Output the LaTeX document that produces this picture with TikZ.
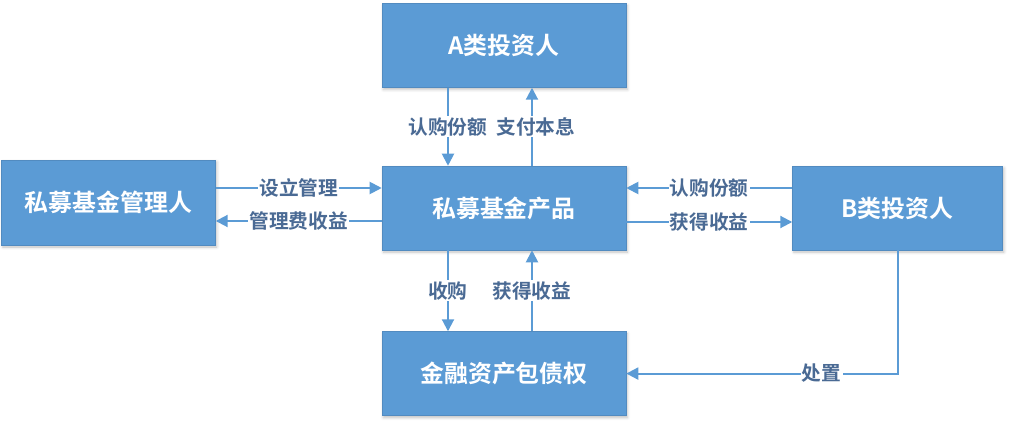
\documentclass[tikz,border=0pt]{standalone}
\usepackage{fontspec}
\setmainfont{Noto Sans CJK SC}[BoldFont={Noto Sans CJK SC Bold}]
\usepackage{xcolor}
\usepackage{tikz}
\usetikzlibrary{arrows.meta,positioning,shadows.blur}
\definecolor{boxblue}{HTML}{5B9BD5}
\definecolor{labelink}{HTML}{4A6A94}

\begin{document}
\begin{tikzpicture}[
    node distance=1.95cm and 4.15cm,
    box/.style={draw=boxblue!90!black, line width=0.4pt, fill=boxblue,
                blur shadow={shadow xshift=1pt, shadow yshift=-1.5pt, shadow blur radius=2pt, shadow opacity=25},
                minimum width=6.1cm, minimum height=2.1cm, align=center,
                text=white, font=\fontsize{17}{20}\selectfont\bfseries},
    line/.style={-{Triangle[length=3mm,width=3mm]}, line width=1.4pt, draw=boxblue},
    label/.style={font=\fontsize{14}{16}\selectfont\bfseries, text=labelink, fill=white, inner sep=1pt}
  ]
  \useasboundingbox (-12.6,5.2) rectangle (12.65,-5.45);

  %%%%%%%%%%%%% Centre: fund product %%%%%%%%%%%%%
  \node[box] (prod) {私募基金产品};

  %%%%%%%%%%%%% Around it %%%%%%%%%%%%%
  \node[box, above=of prod] (ainv) {A类投资人};
  \node[box, below=2.025cm of prod] (asset) {金融资产包债权};
  \node[box, left=of prod, yshift=0.14cm, minimum width=5.35cm, minimum height=2.125cm] (mgr) {私募基金管理人};
  \node[box, right=of prod, minimum width=5.25cm] (binv) {B类投资人};

  %%%%%%%%%%%%% Anchor points on the product box %%%%%%%%%%%%%
  \coordinate (pn1) at ([xshift=-1.4cm]prod.north);
  \coordinate (pn2) at ([xshift=0.7cm]prod.north);
  \coordinate (ps1) at ([xshift=-1.4cm]prod.south);
  \coordinate (ps2) at ([xshift=0.7cm]prod.south);
  \coordinate (pw1) at ([yshift=0.5cm]prod.west);
  \coordinate (pw2) at ([yshift=-0.325cm]prod.west);
  \coordinate (pe1) at ([yshift=0.5cm]prod.east);
  \coordinate (pe2) at ([yshift=-0.35cm]prod.east);

  %%%%%%%%%%%%% A investors <-> product %%%%%%%%%%%%%
  \draw[line] (ainv.south -| pn1) -- (pn1) node[label, midway] {认购份额};
  \draw[line] (pn2) -- (ainv.south -| pn2) node[label, midway, xshift=0.1cm] {支付本息};

  %%%%%%%%%%%%% Manager <-> product %%%%%%%%%%%%%
  \draw[line] (mgr.east |- pw1) -- (pw1) node[label, midway] {设立管理};
  \draw[line] (pw2) -- (mgr.east |- pw2) node[label, midway] {管理费收益};

  %%%%%%%%%%%%% B investors <-> product %%%%%%%%%%%%%
  \draw[line] (binv.west |- pe1) -- (pe1) node[label, midway] {认购份额};
  \draw[line] (pe2) -- (binv.west |- pe2) node[label, midway] {获得收益};

  %%%%%%%%%%%%% Product <-> asset package %%%%%%%%%%%%%
  \draw[line] (ps1) -- (asset.north -| ps1) node[label, midway] {收购};
  \draw[line] (asset.north -| ps2) -- (ps2) node[label, midway] {获得收益};

  %%%%%%%%%%%%% B investors -> asset package %%%%%%%%%%%%%
  \draw[line] (binv.south) |- (asset.east) node[label, pos=0.64] {处置};

\end{tikzpicture}
\end{document}
